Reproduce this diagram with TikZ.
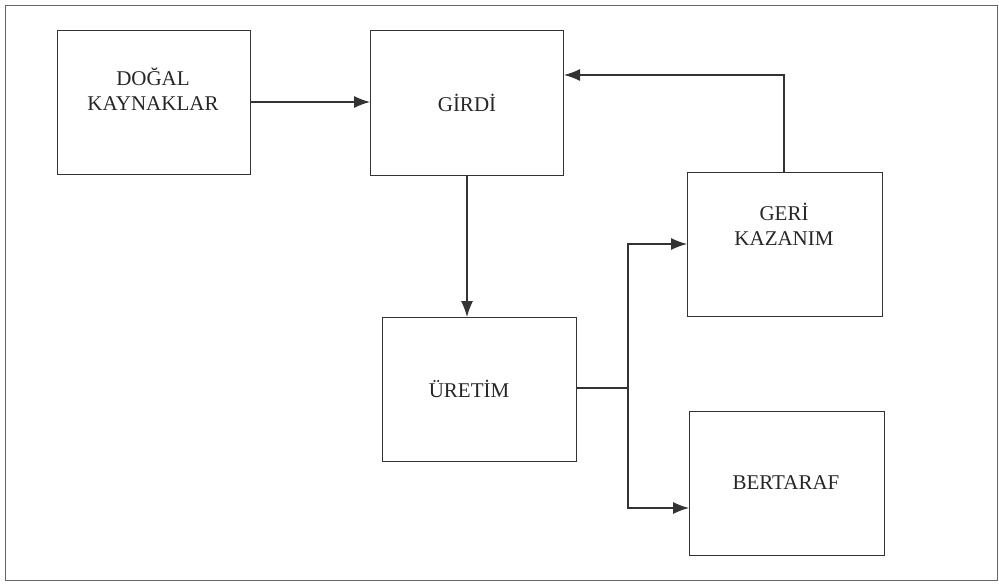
\documentclass[tikz,border=0pt]{standalone}
\usepackage{fontspec}
\setmainfont{Liberation Serif}
\usetikzlibrary{arrows.meta}
\begin{document}
\begin{tikzpicture}[x=1pt,y=-1pt,
  boxline/.style={draw=black!80,line width=1.1pt},
  blk/.style={boxline,rectangle,inner sep=0pt,anchor=north west},
  lbl/.style={font=\fontsize{21}{25}\selectfont,align=center,text=black!85},
  conn/.style={draw=black!80,line width=1.1pt},
  arr/.style={conn,-{Latex[length=16pt,width=12pt]}}]
\useasboundingbox (0,0) rectangle (999,584);
\draw[draw=black!60,line width=1pt] (5,5) rectangle (997,580);
\node[blk,minimum width=193pt,minimum height=144pt] (dogal) at (57,30) {};
\node[blk,minimum width=193pt,minimum height=145pt] (girdi) at (370,30) {};
\node[blk,minimum width=194pt,minimum height=144pt] (uretim) at (382,317) {};
\node[blk,minimum width=195pt,minimum height=144pt] (geri) at (687,172) {};
\node[blk,minimum width=195pt,minimum height=144pt] (bert) at (689,411) {};
\node[lbl] (tdogal) at (153,89) {DOĞAL\\KAYNAKLAR};
\node[lbl] (tgirdi) at (467,103) {GİRDİ};
\node[lbl] (turetim) at (469,389) {ÜRETİM};
\node[lbl] (tgeri) at (784,224) {GERİ\\KAZANIM};
\node[lbl] (tbert) at (786,483) {BERTARAF};
\coordinate (split) at (628,388);
\coordinate (fb) at (784,75);
\draw[arr] (dogal.east |- 0,102) -- (girdi.west |- 0,102);
\draw[arr] (girdi.south -| 467,0) -- (uretim.north -| 467,0);
\draw[conn] (uretim.east |- split) -- (split);
\draw[arr] (split) |- (geri.west |- 0,244);
\draw[arr] (split) |- (bert.west |- 0,508);
\draw[arr] (geri.north -| fb) -- (fb) -- (girdi.east |- fb);
\end{tikzpicture}
\end{document}
